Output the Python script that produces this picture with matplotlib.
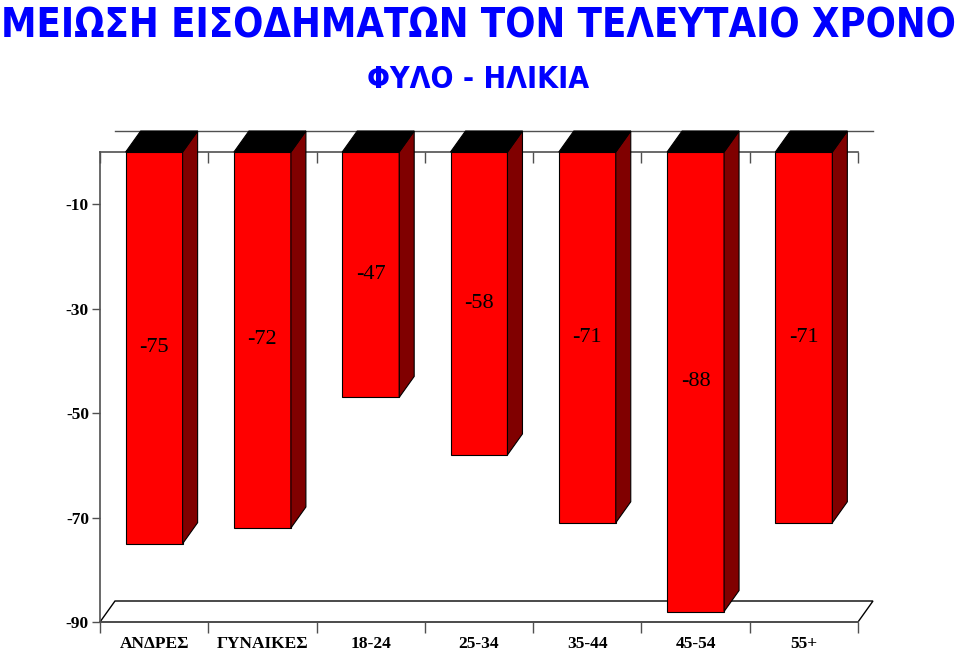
import matplotlib
matplotlib.use("Agg")
import matplotlib.pyplot as plt
from matplotlib.patches import Polygon

categories = ["ΑΝΔΡΕΣ", "ΓΥΝΑΙΚΕΣ", "18-24", "25-34", "35-44", "45-54", "55+"]
values = [-75, -72, -47, -58, -71, -88, -71]
y_ticks = [-90, -70, -50, -30, -10]

title = "ΜΕΙΩΣΗ ΕΙΣΟΔΗΜΑΤΩΝ ΤΟΝ ΤΕΛΕΥΤΑΙΟ ΧΡΟΝΟ"
subtitle = "ΦΥΛΟ - ΗΛΙΚΙΑ"

W, H = 960, 651
fig = plt.figure(figsize=(W / 100, H / 100), dpi=100)
ax = fig.add_axes([100 / W, (H - 622) / H, 758 / W, 470 / H])
ax.set_xlim(-0.5, len(categories) - 0.5)
ax.set_ylim(-90, 0)

# 3d depth in data units (15 px right, 21 px up)
dx = 15 / (758 / len(categories))
dy = 21 / (470 / 90)
bw = 0.526
axc = "#505050"

# floor
floor = Polygon([(-0.5, -90), (-0.5 + dx, -90 + dy), (6.5 + dx, -90 + dy), (6.5, -90)],
                closed=True, fill=False, edgecolor="black", lw=1, clip_on=False, zorder=1)
ax.add_patch(floor)
# back wall top edge
ax.plot([-0.5 + dx, 6.5 + dx], [dy, dy], color=axc, lw=1, clip_on=False, zorder=1)

for i, v in enumerate(values):
    x0, x1 = i - bw / 2, i + bw / 2
    front = Polygon([(x0, 0), (x1, 0), (x1, v), (x0, v)], closed=True,
                    facecolor="#ff0000", edgecolor="black", lw=0.8, clip_on=False, zorder=3)
    side = Polygon([(x1, 0), (x1 + dx, dy), (x1 + dx, v + dy), (x1, v)], closed=True,
                   facecolor="#800000", edgecolor="black", lw=0.8, clip_on=False, zorder=3)
    top = Polygon([(x0, 0), (x0 + dx, dy), (x1 + dx, dy), (x1, 0)], closed=True,
                  facecolor="black", edgecolor="black", lw=0.8, clip_on=False, zorder=3)
    for p in (front, side, top):
        ax.add_patch(p)
    ax.text(i, v / 2, str(v), ha="center", va="center", fontsize=16,
            family="Liberation Serif", color="black", zorder=5)

ax.spines["right"].set_visible(False)
for s in ("left", "bottom", "top"):
    ax.spines[s].set_color(axc)
    ax.spines[s].set_linewidth(1.2)
ax.spines["top"].set_zorder(2)

ax.set_yticks(y_ticks)
ax.set_yticklabels([str(t) for t in y_ticks], fontsize=12.5, fontweight="bold",
                   family="Liberation Serif")
ax.tick_params(axis="y", length=6, width=1, color=axc, pad=2)

bounds = [i - 0.5 for i in range(len(categories) + 1)]
ax.set_xticks(bounds)
ax.set_xticklabels([])
ax.set_xticks(range(len(categories)), minor=True)
ax.set_xticklabels(categories, minor=True, fontsize=12.5, fontweight="bold",
                   family="Liberation Serif")
ax.tick_params(axis="x", which="major", length=8, width=1, color=axc,
               top=True, direction="out")
ax.tick_params(axis="x", which="minor", length=0, pad=10)
for t in ax.xaxis.get_major_ticks():
    t.tick2line.set_marker(3)  # downward tick on the top line
    t.tick2line.set_markersize(8)

tfam = "DejaVu Sans"
t1 = fig.text(478 / W, 1 - 26 / H, title, ha="center", va="center", color="#0000ff",
              fontsize=30, fontweight="bold", family=tfam, fontstretch="condensed")
t2 = fig.text(478 / W, 1 - 79 / H, subtitle, ha="center", va="center", color="#0000ff",
              fontsize=20, fontweight="bold", family=tfam, fontstretch="condensed")

# fit the title widths to the reference
r = fig.canvas.get_renderer()
for t, target in ((t1, 952), (t2, 222)):
    w = t.get_window_extent(r).width
    t.set_fontsize(t.get_fontsize() * target / w)

fig.savefig("out.png", dpi=100)
